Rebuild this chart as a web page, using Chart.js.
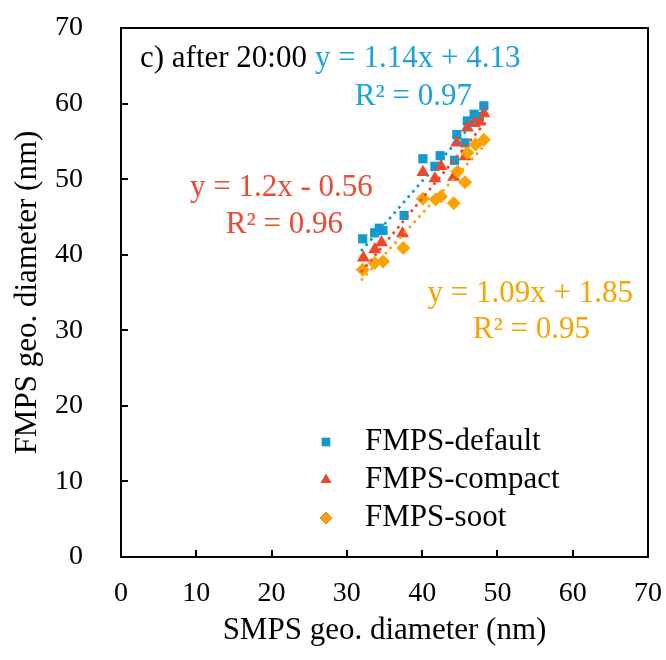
<!DOCTYPE html>
<html>
<head>
<meta charset="utf-8">
<script src="https://cdn.jsdelivr.net/npm/chart.js@4.4.1/dist/chart.umd.min.js"></script>
<style>
  html, body { margin: 0; padding: 0; background: #fff; }
  #wrap { width: 666px; height: 660px; }
</style>
</head>
<body>
<div id="wrap"><canvas id="chart"></canvas></div>
<script>
// SMPS diameter (x) vs FMPS diameter (y), after 20:00
var defaultX = [32.1, 33.7, 34.3, 34.8, 37.6, 40.1, 41.7, 42.4, 44.3, 44.6, 45.7, 46.0, 46.9, 47.6, 48.2];
var defaultY = [42.1, 42.9, 43.5, 43.2, 45.2, 52.7, 51.7, 53.1, 52.5, 55.9, 54.8, 57.7, 58.6, 58.3, 59.7];
var compactX = [32.2, 33.7, 34.6, 37.4, 40.1, 41.7, 42.5, 44.2, 44.6, 45.7, 46.0, 46.9, 47.6, 48.2];
var compactY = [39.6, 40.7, 41.6, 42.8, 50.9, 50.1, 51.7, 50.3, 54.8, 53.0, 56.8, 57.4, 57.6, 58.7];
var sootX = [32.1, 33.7, 34.8, 37.5, 40.1, 41.8, 42.5, 44.2, 44.7, 45.7, 46.0, 47.1, 48.2];
var sootY = [38.0, 38.9, 39.1, 40.9, 47.4, 47.3, 47.7, 46.8, 51.0, 49.6, 53.5, 54.6, 55.2];

// fitted trend lines as printed on the chart
var slopes = [1.14, 1.2, 1.09];
var intercepts = [4.13, -0.56, 1.85];
var trendRange = [32, 48.5];

var xTicks = [0, 10, 20, 30, 40, 50, 60, 70];
var yTicks = [0, 10, 20, 30, 40, 50, 60, 70];

var blue = '#0f9bd0', red = '#f0462a', orange = '#ffa200';
var blueText = '#1ba3d9', redText = '#ea4a33', orangeText = '#f7a400';
var serif = '"Liberation Serif", "Times New Roman", serif';

function pts(xs, ys) {
  return xs.map(function(x, i) { return { x: x, y: ys[i] }; });
}
function trend(i) {
  return trendRange.map(function(x) { return { x: x, y: slopes[i] * x + intercepts[i] }; });
}

var labels = ['FMPS-default', 'FMPS-compact', 'FMPS-soot'];
var colors = [blue, red, orange];
var styles = ['rect', 'triangle', 'rectRot'];

var datasets = [
  { label: labels[0], data: pts(defaultX, defaultY), pointStyle: 'rect', pointRadius: 6.5, backgroundColor: blue, borderColor: blue, borderWidth: 0, showLine: false, order: 3 },
  { label: labels[1], data: pts(compactX, compactY), pointStyle: 'triangle', pointRadius: 7.5, backgroundColor: red, borderColor: red, borderWidth: 0, showLine: false, order: 2 },
  { label: labels[2], data: pts(sootX, sootY), pointStyle: 'rectRot', pointRadius: 7, backgroundColor: orange, borderColor: orange, borderWidth: 0, showLine: false, order: 1 },
  { label: 't0', data: trend(0), showLine: true, borderColor: blue, borderWidth: 3, borderDash: [0.1, 7], borderCapStyle: 'round', pointRadius: 0, fill: false, order: 0 },
  { label: 't1', data: trend(1), showLine: true, borderColor: red, borderWidth: 3, borderDash: [0.1, 7], borderCapStyle: 'round', pointRadius: 0, fill: false, order: 0 },
  { label: 't2', data: trend(2), showLine: true, borderColor: orange, borderWidth: 3, borderDash: [0.1, 7], borderCapStyle: 'round', pointRadius: 0, fill: false, order: 0 }
];

var annotations = [
  { text: 'c) after 20:00', color: '#000', x: 140, y: 59, align: 'left' },
  { text: 'y = 1.14x + 4.13', color: blueText, x: 315, y: 59, align: 'left' },
  { text: 'R\u00B2 = 0.97', color: blueText, x: 472, y: 97, align: 'right' },
  { text: 'y = 1.2x - 0.56', color: redText, x: 190, y: 188, align: 'left' },
  { text: 'R\u00B2 = 0.96', color: redText, x: 343, y: 225, align: 'right' },
  { text: 'y = 1.09x + 1.85', color: orangeText, x: 633, y: 294, align: 'right' },
  { text: 'R\u00B2 = 0.95', color: orangeText, x: 590, y: 330, align: 'right' }
];

var framePlugin = {
  id: 'frame',
  afterDraw: function(chart) {
    var ctx = chart.ctx, a = chart.chartArea;
    var xs = chart.scales.x, ys = chart.scales.y;
    ctx.save();
    ctx.strokeStyle = '#000';
    ctx.lineWidth = 2;
    ctx.strokeRect(a.left, a.top, a.right - a.left, a.bottom - a.top);
    ctx.beginPath();
    xTicks.forEach(function(v) {
      var px = Math.round(xs.getPixelForValue(v));
      ctx.moveTo(px, a.bottom); ctx.lineTo(px, a.bottom - 7);
    });
    yTicks.forEach(function(v) {
      var py = Math.round(ys.getPixelForValue(v));
      ctx.moveTo(a.left, py); ctx.lineTo(a.left + 7, py);
    });
    ctx.stroke();

    ctx.font = '31px ' + serif;
    ctx.textBaseline = 'middle';
    annotations.forEach(function(t) {
      ctx.fillStyle = t.color;
      ctx.textAlign = t.align;
      ctx.fillText(t.text, t.x, t.y);
    });

    // legend
    for (var i = 0; i < 3; i++) {
      var ly = 442 + i * 38;
      Chart.helpers.drawPoint(ctx, { pointStyle: styles[i], radius: 6, rotation: 0, borderWidth: 0 }, 326, ly);
      ctx.fillStyle = colors[i];
      ctx.fill();
      ctx.fillStyle = '#000';
      ctx.textAlign = 'left';
      ctx.fillText(labels[i], 365, ly);
    }
    ctx.restore();
  }
};

var config = {
  type: 'scatter',
  data: { datasets: datasets },
  options: {
    responsive: true,
    maintainAspectRatio: false,
    animation: false,
    layout: { padding: { top: 28, right: 18, left: 0, bottom: 0 } },
    plugins: {
      legend: { display: false },
      tooltip: { enabled: false }
    },
    scales: {
      x: {
        type: 'linear', min: 0, max: 70,
        afterFit: function(s) { s.height = 103; s.paddingLeft = 0; s.paddingRight = 0; },
        afterBuildTicks: function(s) { s.ticks = xTicks.map(function(v) { return { value: v }; }); },
        grid: { display: false },
        border: { display: false },
        ticks: { color: '#000', font: { family: serif, size: 28 }, padding: 12 },
        title: { display: true, text: 'SMPS geo. diameter (nm)', color: '#000', font: { family: serif, size: 31 }, padding: { top: 0, bottom: 11 } }
      },
      y: {
        type: 'linear', min: 0, max: 70,
        afterFit: function(s) { s.width = 121; s.paddingTop = 0; s.paddingBottom = 0; },
        afterBuildTicks: function(s) { s.ticks = yTicks.map(function(v) { return { value: v }; }); },
        grid: { display: false },
        border: { display: false },
        ticks: { color: '#000', font: { family: serif, size: 28 }, padding: 30 },
        title: { display: true, text: 'FMPS geo. diameter (nm)', color: '#000', font: { family: serif, size: 31 }, padding: { top: 9, bottom: 0 } }
      }
    }
  },
  plugins: [framePlugin]
};

window.onload = function() {
  var ctx = document.getElementById('chart').getContext('2d');
  window.myChart = new Chart(ctx, config);
};
</script>
</body>
</html>
